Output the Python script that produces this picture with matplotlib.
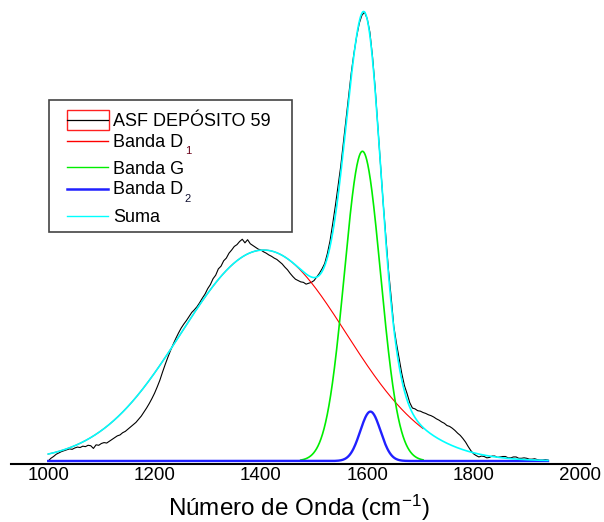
import numpy as np
import matplotlib
matplotlib.use("Agg")
import matplotlib.pyplot as plt
from matplotlib.lines import Line2D
from matplotlib.patches import Rectangle

plt.rcParams["font.family"] = ["Liberation Sans", "DejaVu Sans"]
plt.rcParams["mathtext.fontset"] = "custom"
plt.rcParams["mathtext.rm"] = "Liberation Sans"
plt.rcParams["mathtext.it"] = "Liberation Sans:italic"

# Measured Raman spectrum (wavenumber in cm-1, normalised intensity)
wavenumber = [
    1000, 1005, 1010, 1015, 1020, 1025, 1030, 1035, 1040, 1045, 1050, 1055,
    1060, 1065, 1070, 1075, 1080, 1085, 1090, 1095, 1100, 1105, 1110, 1115,
    1120, 1125, 1130, 1135, 1140, 1145, 1150, 1155, 1160, 1165, 1170, 1175,
    1180, 1185, 1190, 1195, 1200, 1205, 1210, 1215, 1220, 1225, 1230, 1235,
    1240, 1245, 1250, 1255, 1260, 1265, 1270, 1275, 1280, 1285, 1290, 1295,
    1300, 1305, 1310, 1315, 1320, 1325, 1330, 1335, 1340, 1345, 1350, 1355,
    1360, 1365, 1370, 1375, 1380, 1385, 1390, 1395, 1400, 1405, 1410, 1415,
    1420, 1425, 1430, 1435, 1440, 1445, 1450, 1455, 1460, 1465, 1470, 1475,
    1480, 1485, 1490, 1495, 1500, 1505, 1510, 1515, 1520, 1525, 1530, 1535,
    1540, 1545, 1550, 1555, 1560, 1565, 1570, 1575, 1580, 1585, 1590, 1595,
    1600, 1605, 1610, 1615, 1620, 1625, 1630, 1635, 1640, 1645, 1650, 1655,
    1660, 1665, 1670, 1675, 1680, 1685, 1690, 1695, 1700, 1705, 1710, 1715,
    1720, 1725, 1730, 1735, 1740, 1745, 1750, 1755, 1760, 1765, 1770, 1775,
    1780, 1785, 1790, 1795, 1800, 1805, 1810, 1815, 1820, 1825, 1830, 1835,
    1840, 1845, 1850, 1855, 1860, 1865, 1870, 1875, 1880, 1885, 1890, 1895,
    1900, 1905, 1910, 1915, 1920, 1925, 1930, 1935, 1940,
]
intensity = [
    0.000, 0.006, 0.010, 0.015, 0.018, 0.021, 0.023, 0.025, 0.027, 0.026, 0.029, 0.031,
    0.030, 0.033, 0.032, 0.035, 0.034, 0.028, 0.036, 0.035, 0.039, 0.041, 0.040, 0.044,
    0.048, 0.052, 0.056, 0.058, 0.063, 0.066, 0.071, 0.076, 0.081, 0.086, 0.093, 0.100,
    0.109, 0.118, 0.128, 0.139, 0.151, 0.165, 0.180, 0.198, 0.215, 0.231, 0.246, 0.260,
    0.273, 0.285, 0.296, 0.305, 0.313, 0.322, 0.331, 0.337, 0.344, 0.353, 0.363, 0.372,
    0.384, 0.393, 0.406, 0.414, 0.428, 0.434, 0.446, 0.452, 0.463, 0.470, 0.478, 0.482,
    0.489, 0.494, 0.486, 0.493, 0.484, 0.480, 0.476, 0.472, 0.470, 0.466, 0.463, 0.459,
    0.456, 0.452, 0.449, 0.444, 0.439, 0.432, 0.426, 0.418, 0.411, 0.405, 0.402, 0.399,
    0.398, 0.394, 0.396, 0.398, 0.402, 0.410, 0.418, 0.428, 0.440, 0.462, 0.490, 0.528,
    0.568, 0.612, 0.655, 0.708, 0.762, 0.815, 0.865, 0.908, 0.945, 0.975, 0.993, 1.000,
    0.985, 0.955, 0.900, 0.830, 0.745, 0.660, 0.575, 0.500, 0.425, 0.365, 0.300, 0.262,
    0.228, 0.195, 0.168, 0.150, 0.130, 0.118, 0.116, 0.112, 0.111, 0.108, 0.106, 0.103,
    0.101, 0.098, 0.094, 0.091, 0.087, 0.084, 0.079, 0.077, 0.073, 0.068, 0.062, 0.057,
    0.050, 0.042, 0.032, 0.023, 0.016, 0.012, 0.009, 0.011, 0.010, 0.007, 0.008, 0.011,
    0.011, 0.008, 0.009, 0.010, 0.010, 0.007, 0.007, 0.009, 0.009, 0.006, 0.006, 0.007,
    0.006, 0.004, 0.004, 0.005, 0.003, 0.002, 0.002, 0.003, 0.002,
]

# Fitted bands: centre (cm-1), FWHM (cm-1), height
band_names = ["Banda D", "Banda G", "Banda D"]
band_subscripts = ["1", "", "2"]
band_centre = [1405, 1591, 1606]
band_fwhm = [365, 80, 45]
band_height = [0.47, 0.69, 0.11]
band_range = [(1000, 1705), (1475, 1705), (1000, 1940)]
band_colors = ["#ff0000", "#00ee00", "#2020ff"]
band_lw = [0.8, 1.2, 1.7]

x_ticks = [1000, 1200, 1400, 1600, 1800, 2000]


def gaussian(x, centre, fwhm, height):
    sigma = fwhm / (2.0 * np.sqrt(2.0 * np.log(2.0)))
    return height * np.exp(-((x - centre) ** 2) / (2.0 * sigma ** 2))


W, H = 604, 522
fig = plt.figure(figsize=(W / 100, H / 100), dpi=100)
ax = fig.add_axes([11 / W, 1 - 464 / H, 579 / W, 464 / H])

# spectrum
ax.plot(wavenumber, intensity, color="black", lw=0.8, zorder=2)

# fitted bands and their sum
x_full = np.linspace(1000, 1940, 1200)
total = np.zeros_like(x_full)
for c, f, h, (lo, hi), col, lw in zip(band_centre, band_fwhm, band_height,
                                      band_range, band_colors, band_lw):
    total += gaussian(x_full, c, f, h)
    xs = np.linspace(lo, hi, 800)
    ax.plot(xs, gaussian(xs, c, f, h), color=col, lw=lw, zorder=3)
ax.plot(x_full, total, color="#00ffff", lw=1.2, zorder=4)

ax.set_xlim(930, 2019)
ax.set_ylim(-0.0067, 1.027)
for s in ["top", "left", "right"]:
    ax.spines[s].set_visible(False)
ax.spines["bottom"].set_linewidth(1.5)
ax.set_yticks([])
ax.set_xticks(x_ticks)
ax.set_xticklabels([str(t) for t in x_ticks])
ax.tick_params(axis="x", length=0, pad=2.5, labelsize=13.5)

fig.text(299 / W, 1 - 516 / H, "Número de Onda (cm$^{-1}$)",
         ha="center", va="baseline", fontsize=17.5)


# legend box drawn in pixel positions
def fx(px):
    return px / W


def fy(py):
    return 1 - py / H


fig.add_artist(Rectangle((fx(49), fy(232)), fx(292) - fx(49), fy(100) - fy(232),
                         transform=fig.transFigure, facecolor="white",
                         edgecolor="#444444", lw=1.2, zorder=10))
fig.add_artist(Rectangle((fx(66.5), fy(129.5)), fx(108.5) - fx(66.5),
                         fy(109.5) - fy(129.5), transform=fig.transFigure,
                         facecolor="none", edgecolor="#ff2020", lw=1.0, zorder=11))

legend_labels = ["ASF DEPÓSITO 59"] + band_names + ["Suma"]
legend_subs = [""] + band_subscripts + [""]
legend_sub_colors = ["black", "#6a0018", "black", "#101030", "black"]
legend_colors = ["black"] + band_colors + ["#00ffff"]
legend_lw = [0.9] + [1.0, 1.0, 1.8] + [1.0]
legend_y = [119.5, 141, 167.5, 188.5, 216]

renderer = fig.canvas.get_renderer()
for lab, sub, scol, col, lw, yy in zip(legend_labels, legend_subs,
                                       legend_sub_colors, legend_colors,
                                       legend_lw, legend_y):
    fig.add_artist(Line2D([fx(67), fx(108)], [fy(yy), fy(yy)],
                          transform=fig.transFigure, color=col, lw=lw, zorder=12))
    t = fig.text(fx(113), fy(yy + 6.0), lab, ha="left", va="baseline",
                 fontsize=13, zorder=12)
    if sub:
        bb = t.get_window_extent(renderer=renderer)
        fig.text(fx(bb.x1 + 1.5), fy(yy + 13.0), sub, ha="left", va="baseline",
                 fontsize=8, color=scol, zorder=12)

fig.savefig("out.png", dpi=100)
